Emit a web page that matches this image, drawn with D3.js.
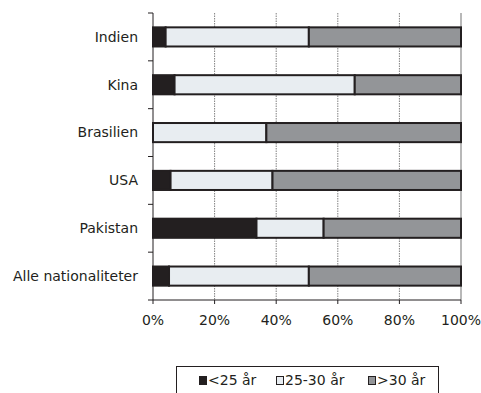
<!DOCTYPE html>
<html><head><meta charset="utf-8">
<script src="https://cdn.jsdelivr.net/npm/d3@7"></script>
<style>body{margin:0;background:#fff;} svg{display:block;font-family:"DejaVu Sans",sans-serif;}</style>
</head><body>
<svg id="c" width="481" height="393"></svg>
<script>
const categories = ["Indien","Kina","Brasilien","USA","Pakistan","Alle nationaliteter"];
const seriesNames = ["<25 år","25-30 år",">30 år"];
const under25 = [4.1, 7.0, 0, 5.7, 33.6, 5.2];
const age25to30 = [46.5, 58.5, 36.8, 33.1, 21.8, 45.4];
const over30 = [49.4, 34.5, 63.2, 61.2, 44.6, 49.4];
const xTicks = [0,20,40,60,80,100];
const colors = ["#231f20","#e8edf1","#939598"];

const svg = d3.select("#c");
const m = {left:153, right:461, top:13, bottom:300};
const x = d3.scaleLinear().domain([0,100]).range([m.left,m.right]);
const y = d3.scaleBand().domain(categories).range([m.top,m.bottom]).paddingInner(0.6).paddingOuter(0.3);
const yb = d3.scaleBand().domain(categories).range([m.top,m.bottom]);
const fs = 14;

// gridlines
svg.append("g").selectAll("line").data(xTicks.slice(1)).join("line")
  .attr("x1",d=>x(d)).attr("x2",d=>x(d)).attr("y1",m.top).attr("y2",m.bottom)
  .attr("stroke",d=>d===100?"#a0a0a0":"#808080").attr("stroke-width",d=>d===100?1.5:1)
  .attr("stroke-dasharray",d=>d===100?null:"1.5,1");

const data = categories.map((c,i)=>({cat:c, v:[under25[i],age25to30[i],over30[i]]}));
const stacked = d3.stack().keys([0,1,2]).value((d,k)=>d.v[k])(data);

svg.append("g").selectAll("g").data(stacked).join("g")
  .attr("fill",(d,i)=>colors[i])
  .selectAll("rect").data(d=>d.filter(p=>p[1]-p[0]>0)).join("rect")
  .attr("x",p=>x(p[0])).attr("width",p=>x(p[1])-x(p[0]))
  .attr("y",p=>y(p.data.cat)).attr("height",y.bandwidth())
  .attr("stroke","#231f20").attr("stroke-width",2);

// left axis
const ya = svg.append("g");
ya.append("line").attr("x1",m.left).attr("x2",m.left).attr("y1",m.top).attr("y2",m.bottom).attr("stroke","#231f20");
const yTickPos = categories.map(c=>yb(c)).concat([m.bottom]);
ya.selectAll("line.t").data(yTickPos).join("line").attr("class","t")
  .attr("x1",m.left-5).attr("x2",m.left).attr("y1",d=>d).attr("y2",d=>d).attr("stroke","#231f20");
ya.selectAll("text").data(categories).join("text")
  .attr("x",m.left-15).attr("y",c=>y(c)+y.bandwidth()/2).attr("dy","0.35em")
  .attr("text-anchor","end").attr("font-size",fs).attr("fill","#231f20").text(c=>c);

// bottom axis
const xa = svg.append("g");
xa.append("line").attr("x1",m.left).attr("x2",m.right).attr("y1",m.bottom).attr("y2",m.bottom).attr("stroke","#231f20");
xa.selectAll("line.t").data(xTicks).join("line").attr("class","t")
  .attr("x1",d=>x(d)).attr("x2",d=>x(d)).attr("y1",m.bottom).attr("y2",m.bottom+4).attr("stroke","#231f20");
xa.selectAll("text").data(xTicks).join("text")
  .attr("x",d=>x(d)).attr("y",m.bottom+20).attr("dy","0.35em")
  .attr("text-anchor","middle").attr("font-size",fs).attr("fill","#231f20").text(d=>d+"%");

// legend
const lg = svg.append("g");
lg.append("rect").attr("x",176.5).attr("y",366.5).attr("width",262).attr("height",40)
  .attr("fill","none").attr("stroke","#231f20");
const lx = [199, 276, 368];
seriesNames.forEach((s,i)=>{
  lg.append("rect").attr("x",lx[i]+0.5).attr("y",376.5).attr("width",7).attr("height",8)
    .attr("fill",colors[i]).attr("stroke","#231f20").attr("stroke-width",1);
  lg.append("text").attr("x",lx[i]+9).attr("y",380.5).attr("dy","0.35em")
    .attr("font-size",fs).attr("fill","#231f20").text(s);
});
</script>
</body></html>
